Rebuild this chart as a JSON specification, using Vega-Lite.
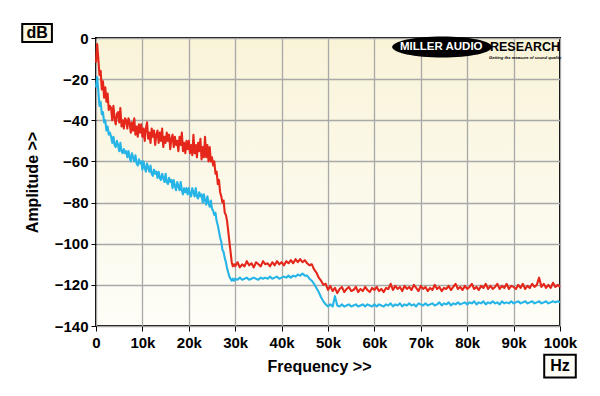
{
  "$schema": "https://vega.github.io/schema/vega-lite/v6.json",
  "width": 464,
  "height": 288,
  "autosize": {"type": "none"},
  "padding": {"left": 96, "top": 38, "right": 40, "bottom": 70},
  "background": "#ffffff",
  "config": {
    "view": {
      "stroke": "#000000",
      "strokeWidth": 2,
      "fill": {"gradient": "linear", "x1": 0, "y1": 0, "x2": 0, "y2": 1, "stops": [{"offset": 0, "color": "#f9f3d8"}, {"offset": 0.6, "color": "#fcfaed"}, {"offset": 1, "color": "#fefdf7"}]}
    },
    "axis": {
      "labelFont": "Liberation Sans", "labelFontWeight": "bold", "labelFontSize": 15, "labelColor": "#000000",
      "titleFont": "Liberation Sans", "titleFontWeight": "bold", "titleFontSize": 16, "titleColor": "#000000",
      "domain": false, "tickColor": "#000000", "tickSize": 5, "tickWidth": 1, "labelFlush": false, "labelOverlap": false,
      "gridColor": "#a8a8a8", "gridWidth": 1.3, "gridOpacity": 1
    }
  },
  "data": {"values": [
    {"f":0,"r":-12,"c":-24},{"f":0.25,"r":-3,"c":-19},{"f":0.5,"r":-10,"c":-26},{"f":0.75,"r":-18,"c":-33},
    {"f":1,"r":-16,"c":-31},{"f":1.25,"r":-25,"c":-37},{"f":1.5,"r":-21,"c":-36},{"f":1.75,"r":-29,"c":-41},
    {"f":2,"r":-24,"c":-40},{"f":2.25,"r":-31,"c":-45},{"f":2.5,"r":-27,"c":-43},{"f":2.75,"r":-35,"c":-47},
    {"f":3,"r":-33,"c":-46},{"f":3.25,"r":-34,"c":-48},{"f":3.5,"r":-40,"c":-51},{"f":3.75,"r":-33,"c":-48},
    {"f":4,"r":-39,"c":-52},{"f":4.25,"r":-42,"c":-53},{"f":4.5,"r":-37,"c":-50},{"f":4.75,"r":-36,"c":-52},
    {"f":5,"r":-41,"c":-55},{"f":5.25,"r":-34,"c":-51},{"f":5.5,"r":-43,"c":-55},{"f":5.75,"r":-40,"c":-56},
    {"f":6,"r":-44,"c":-54},{"f":6.25,"r":-39,"c":-56},{"f":6.5,"r":-40,"c":-55},{"f":6.75,"r":-44,"c":-58},
    {"f":7,"r":-39,"c":-55},{"f":7.25,"r":-41,"c":-58},{"f":7.5,"r":-46,"c":-60},{"f":7.75,"r":-41,"c":-56},
    {"f":8,"r":-45,"c":-58},{"f":8.25,"r":-39,"c":-60},{"f":8.5,"r":-47,"c":-57},{"f":8.75,"r":-43,"c":-61},
    {"f":9,"r":-48,"c":-62},{"f":9.25,"r":-42,"c":-59},{"f":9.5,"r":-46,"c":-61},{"f":9.75,"r":-42,"c":-60},
    {"f":10,"r":-48,"c":-64},{"f":10.25,"r":-44,"c":-60},{"f":10.5,"r":-50,"c":-63},{"f":10.75,"r":-44,"c":-65},
    {"f":11,"r":-41,"c":-61},{"f":11.25,"r":-49,"c":-63},{"f":11.5,"r":-46,"c":-65},{"f":11.75,"r":-51,"c":-62},
    {"f":12,"r":-44,"c":-66},{"f":12.25,"r":-48,"c":-67},{"f":12.5,"r":-45,"c":-64},{"f":12.75,"r":-52,"c":-66},
    {"f":13,"r":-47,"c":-65},{"f":13.25,"r":-45,"c":-68},{"f":13.5,"r":-51,"c":-65},{"f":13.75,"r":-46,"c":-68},
    {"f":14,"r":-50,"c":-69},{"f":14.25,"r":-44,"c":-66},{"f":14.5,"r":-53,"c":-68},{"f":14.75,"r":-48,"c":-70},
    {"f":15,"r":-51,"c":-66},{"f":15.25,"r":-46,"c":-70},{"f":15.5,"r":-50,"c":-71},{"f":15.75,"r":-47,"c":-68},
    {"f":16,"r":-54,"c":-70},{"f":16.25,"r":-49,"c":-69},{"f":16.5,"r":-47,"c":-73},{"f":16.75,"r":-53,"c":-69},
    {"f":17,"r":-48,"c":-72},{"f":17.25,"r":-52,"c":-74},{"f":17.5,"r":-50,"c":-70},{"f":17.75,"r":-55,"c":-72},
    {"f":18,"r":-48,"c":-74},{"f":18.25,"r":-52,"c":-70},{"f":18.5,"r":-46,"c":-74},{"f":18.75,"r":-55,"c":-76},
    {"f":19,"r":-51,"c":-73},{"f":19.25,"r":-56,"c":-75},{"f":19.5,"r":-50,"c":-73},{"f":19.75,"r":-54,"c":-76},
    {"f":20,"r":-50,"c":-73},{"f":20.25,"r":-56,"c":-76},{"f":20.5,"r":-52,"c":-77},{"f":20.75,"r":-57,"c":-73},
    {"f":21,"r":-47,"c":-75},{"f":21.25,"r":-56,"c":-77},{"f":21.5,"r":-52,"c":-73},{"f":21.75,"r":-58,"c":-77},
    {"f":22,"r":-51,"c":-78},{"f":22.25,"r":-55,"c":-75},{"f":22.5,"r":-49,"c":-77},{"f":22.75,"r":-59,"c":-76},
    {"f":23,"r":-53,"c":-80},{"f":23.25,"r":-58,"c":-76},{"f":23.5,"r":-48,"c":-79},{"f":23.75,"r":-58,"c":-81},
    {"f":24,"r":-52,"c":-77},{"f":24.25,"r":-60,"c":-80},{"f":24.5,"r":-53,"c":-82},{"f":24.75,"r":-60,"c":-79},
    {"f":25,"r":-58,"c":-83},{"f":25.25,"r":-62,"c":-84},{"f":25.5,"r":-60,"c":-86},{"f":25.75,"r":-66,"c":-85},
    {"f":26,"r":-65,"c":-89},{"f":26.25,"r":-71,"c":-91},{"f":26.5,"r":-69,"c":-94},{"f":26.75,"r":-75,"c":-97},
    {"f":27,"r":-77,"c":-99},{"f":27.25,"r":-80,"c":-103},{"f":27.5,"r":-79,"c":-104},{"f":27.75,"r":-85,"c":-107},
    {"f":28,"r":-86,"c":-109},{"f":28.25,"r":-89,"c":-112},{"f":28.5,"r":-94,"c":-114},{"f":28.75,"r":-99,"c":-116},
    {"f":29,"r":-104,"c":-117},{"f":29.25,"r":-109,"c":-118},{"f":29.5,"r":-111,"c":-117},{"f":29.75,"r":-110,"c":-118},
    {"f":30,"r":-111,"c":-117},
    {"f":30.5,"r":-109,"c":-117.5},{"f":31,"r":-111.5,"c":-116.5},{"f":31.5,"r":-110,"c":-117.5},{"f":32,"r":-111,"c":-117},
    {"f":32.5,"r":-108.5,"c":-116.5},{"f":33,"r":-110.5,"c":-117.5},{"f":33.5,"r":-109.5,"c":-117},{"f":34,"r":-111.5,"c":-116.5},
    {"f":34.5,"r":-109,"c":-117},{"f":35,"r":-110,"c":-117.5},{"f":35.5,"r":-111,"c":-116.5},{"f":36,"r":-108.5,"c":-117},
    {"f":36.5,"r":-110,"c":-116.5},{"f":37,"r":-109.5,"c":-117},{"f":37.5,"r":-111,"c":-116},{"f":38,"r":-109,"c":-117},
    {"f":38.5,"r":-110.5,"c":-116.5},{"f":39,"r":-108.5,"c":-116},{"f":39.5,"r":-110,"c":-117},{"f":40,"r":-109,"c":-116.5},
    {"f":40.5,"r":-110.5,"c":-116},{"f":41,"r":-108.5,"c":-116.5},{"f":41.5,"r":-109.5,"c":-115.5},{"f":42,"r":-108,"c":-116.5},
    {"f":42.5,"r":-109.5,"c":-115.5},{"f":43,"r":-107.5,"c":-116},{"f":43.5,"r":-109,"c":-115},{"f":44,"r":-107.5,"c":-115.5},
    {"f":44.5,"r":-109,"c":-114.5},{"f":45,"r":-108,"c":-115.5},{"f":45.5,"r":-109.5,"c":-115.5},{"f":46,"r":-110.5,"c":-117},
    {"f":46.5,"r":-110,"c":-118},{"f":47,"r":-112.5,"c":-119.5},{"f":47.5,"r":-114,"c":-121.5},{"f":48,"r":-116.5,"c":-123.5},
    {"f":48.5,"r":-118,"c":-126},{"f":49,"r":-120,"c":-128},{"f":49.5,"r":-119.5,"c":-129.5},{"f":50,"r":-122.5,"c":-130.5},
    {"f":50.5,"r":-120.5,"c":-129.5},{"f":51,"r":-123,"c":-130.5},{"f":51.5,"r":-121.5,"c":-125.5},{"f":52,"r":-124,"c":-130},
    {"f":52.5,"r":-122,"c":-130.5},{"f":53,"r":-121,"c":-129.5},{"f":53.5,"r":-123.5,"c":-130.5},{"f":54,"r":-122,"c":-130},
    {"f":54.5,"r":-121,"c":-129.5},{"f":55,"r":-123,"c":-130.5},{"f":55.5,"r":-122.5,"c":-130},{"f":56,"r":-121,"c":-129.5},
    {"f":56.5,"r":-123.5,"c":-130.5},{"f":57,"r":-122,"c":-130},{"f":57.5,"r":-123,"c":-129.5},{"f":58,"r":-121,"c":-130.5},
    {"f":58.5,"r":-122.5,"c":-129.5},{"f":59,"r":-123.5,"c":-130},{"f":59.5,"r":-121.5,"c":-130.5},{"f":60,"r":-122.5,"c":-129.5},
    {"f":60.5,"r":-121,"c":-130.5},{"f":61,"r":-123,"c":-129.5},{"f":61.5,"r":-122,"c":-130},{"f":62,"r":-123.5,"c":-130.5},
    {"f":62.5,"r":-121.5,"c":-129.5},{"f":63,"r":-122,"c":-130},{"f":63.5,"r":-119.5,"c":-129},{"f":64,"r":-122.5,"c":-130.5},
    {"f":64.5,"r":-120.5,"c":-129.5},{"f":65,"r":-122,"c":-130},{"f":65.5,"r":-121,"c":-129},{"f":66,"r":-123,"c":-130.5},
    {"f":66.5,"r":-120.5,"c":-129.5},{"f":67,"r":-122,"c":-130},{"f":67.5,"r":-121,"c":-129},{"f":68,"r":-122.5,"c":-130},
    {"f":68.5,"r":-120,"c":-129.5},{"f":69,"r":-121.5,"c":-130.5},{"f":69.5,"r":-123,"c":-129},{"f":70,"r":-120.5,"c":-129.5},
    {"f":70.5,"r":-122,"c":-130},{"f":71,"r":-121,"c":-129},{"f":71.5,"r":-123,"c":-130},{"f":72,"r":-121.5,"c":-129.5},
    {"f":72.5,"r":-122.5,"c":-129},{"f":73,"r":-120,"c":-130},{"f":73.5,"r":-122,"c":-129.5},{"f":74,"r":-121,"c":-128.5},
    {"f":74.5,"r":-123,"c":-130},{"f":75,"r":-121.5,"c":-129},{"f":75.5,"r":-122,"c":-129.5},{"f":76,"r":-120.5,"c":-128.5},
    {"f":76.5,"r":-122.5,"c":-130},{"f":77,"r":-121,"c":-129},{"f":77.5,"r":-119.5,"c":-129.5},{"f":78,"r":-122,"c":-128.5},
    {"f":78.5,"r":-121,"c":-129.5},{"f":79,"r":-122.5,"c":-129},{"f":79.5,"r":-120.5,"c":-128.5},{"f":80,"r":-122,"c":-129.5},
    {"f":80.5,"r":-121,"c":-128.5},{"f":81,"r":-119.5,"c":-129},{"f":81.5,"r":-122,"c":-128},{"f":82,"r":-121,"c":-129.5},
    {"f":82.5,"r":-122.5,"c":-128.5},{"f":83,"r":-120.5,"c":-129},{"f":83.5,"r":-121.5,"c":-128},{"f":84,"r":-119.5,"c":-129.5},
    {"f":84.5,"r":-122,"c":-128.5},{"f":85,"r":-120.5,"c":-129},{"f":85.5,"r":-122,"c":-128},{"f":86,"r":-121,"c":-129},
    {"f":86.5,"r":-119.5,"c":-128.5},{"f":87,"r":-122,"c":-129.5},{"f":87.5,"r":-120.5,"c":-128},{"f":88,"r":-121.5,"c":-129},
    {"f":88.5,"r":-119.5,"c":-128.5},{"f":89,"r":-122,"c":-129},{"f":89.5,"r":-120.5,"c":-128},{"f":90,"r":-121,"c":-129},
    {"f":90.5,"r":-122,"c":-128.5},{"f":91,"r":-120,"c":-128},{"f":91.5,"r":-121.5,"c":-129},{"f":92,"r":-119.5,"c":-128.5},
    {"f":92.5,"r":-122,"c":-128},{"f":93,"r":-120.5,"c":-129},{"f":93.5,"r":-121.5,"c":-128.5},{"f":94,"r":-119.5,"c":-128},
    {"f":94.5,"r":-121,"c":-129},{"f":95,"r":-120,"c":-128.5},{"f":95.5,"r":-116.5,"c":-128},{"f":96,"r":-121,"c":-129},
    {"f":96.5,"r":-119.5,"c":-128.5},{"f":97,"r":-121.5,"c":-128},{"f":97.5,"r":-120,"c":-129},{"f":98,"r":-121.5,"c":-128.5},
    {"f":98.5,"r":-119,"c":-128},{"f":99,"r":-121,"c":-128.5},{"f":99.5,"r":-120,"c":-128},{"f":100,"r":-121,"c":-128.5}
  ]},
  "layer": [
    {
      "mark": {"type": "line", "color": "#27b4e6", "strokeWidth": 2.1, "strokeJoin": "round"},
      "encoding": {
        "x": {"field": "f", "type": "quantitative",
              "scale": {"domain": [0, 100], "nice": false, "zero": false},
              "axis": {"title": "Frequency >>", "values": [0,10,20,30,40,50,60,70,80,90,100], "labelExpr": "datum.value == 0 ? '0' : datum.value + 'k'", "labelPadding": 4, "titlePadding": 8, "titleX": 223, "grid": true}},
        "y": {"field": "c", "type": "quantitative",
              "scale": {"domain": [-140, 0], "nice": false, "zero": false},
              "axis": {"title": "Amplitude >>", "values": [0,-20,-40,-60,-80,-100,-120,-140], "labelPadding": 3, "titlePadding": 14, "grid": true}}
      }
    },
    {
      "mark": {"type": "line", "color": "#e5261b", "strokeWidth": 2.1, "strokeJoin": "round"},
      "encoding": {
        "x": {"field": "f", "type": "quantitative"},
        "y": {"field": "r", "type": "quantitative"}
      }
    },
    {
      "data": {"values": [{"t": "dB"}]},
      "mark": {"type": "rect", "fill": "#fcf8e2", "stroke": "#000000", "strokeWidth": 2},
      "encoding": {
        "x": {"datum": -15.9, "type": "quantitative"}, "x2": {"datum": -9.5},
        "y": {"datum": 6.8, "type": "quantitative"}, "y2": {"datum": -2}
      }
    },
    {
      "data": {"values": [{"t": "dB"}]},
      "mark": {"type": "text", "font": "Liberation Sans", "fontWeight": "bold", "fontSize": 16, "align": "center", "baseline": "middle", "color": "#000000"},
      "encoding": {
        "x": {"datum": -12.7, "type": "quantitative"},
        "y": {"datum": 2.4, "type": "quantitative"},
        "text": {"field": "t"}
      }
    },
    {
      "data": {"values": [{"t": "Hz"}]},
      "mark": {"type": "rect", "fill": "#fefdf6", "stroke": "#000000", "strokeWidth": 2},
      "encoding": {
        "x": {"datum": 96.6, "type": "quantitative"}, "x2": {"datum": 103.4},
        "y": {"datum": -154, "type": "quantitative"}, "y2": {"datum": -165}
      }
    },
    {
      "data": {"values": [{"t": "Hz"}]},
      "mark": {"type": "text", "font": "Liberation Sans", "fontWeight": "bold", "fontSize": 16, "align": "center", "baseline": "middle", "color": "#000000"},
      "encoding": {
        "x": {"datum": 100, "type": "quantitative"},
        "y": {"datum": -159.5, "type": "quantitative"},
        "text": {"field": "t"}
      }
    },
    {
      "data": {"values": [{"t": "logo"}]},
      "mark": {"type": "point", "shape": "M-1,0A1,0.21,0,1,0,1,0A1,0.21,0,1,0,-1,0Z", "filled": true, "color": "#000000", "opacity": 1, "size": 10000},
      "encoding": {
        "x": {"datum": 74.6, "type": "quantitative"},
        "y": {"datum": -4.4, "type": "quantitative"}
      }
    },
    {
      "data": {"values": [{"t": "MILLER AUDIO"}]},
      "mark": {"type": "text", "font": "Liberation Sans", "fontWeight": "bold", "fontSize": 11.5, "align": "center", "baseline": "middle", "color": "#ffffff"},
      "encoding": {
        "x": {"datum": 74.4, "type": "quantitative"},
        "y": {"datum": -4.4, "type": "quantitative"},
        "text": {"field": "t"}
      }
    },
    {
      "data": {"values": [{"t": "RESEARCH"}]},
      "mark": {"type": "text", "font": "Liberation Sans", "fontWeight": "bold", "fontSize": 12.5, "align": "left", "baseline": "middle", "color": "#000000"},
      "encoding": {
        "x": {"datum": 84.9, "type": "quantitative"},
        "y": {"datum": -4.4, "type": "quantitative"},
        "text": {"field": "t"}
      }
    },
    {
      "data": {"values": [{"t": "Getting the measure of sound quality"}]},
      "mark": {"type": "text", "font": "Liberation Sans", "fontWeight": "bold", "fontStyle": "italic", "fontSize": 4.1, "align": "left", "baseline": "middle", "color": "#000000"},
      "encoding": {
        "x": {"datum": 84.7, "type": "quantitative"},
        "y": {"datum": -9.8, "type": "quantitative"},
        "text": {"field": "t"}
      }
    }
  ]
}
